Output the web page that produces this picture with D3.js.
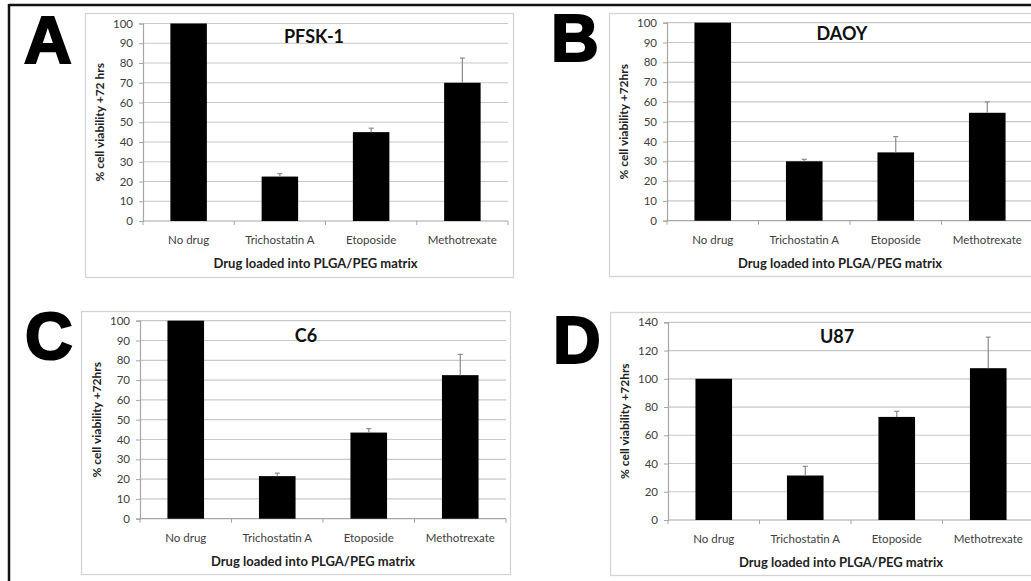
<!DOCTYPE html>
<html>
<head>
<meta charset="utf-8">
<script src="https://cdn.jsdelivr.net/npm/d3@7"></script>
<style>
  body { margin: 0; background: #fff; }
  svg { display: block; }
  text { font-family: Lato, "Open Sans", sans-serif; }
</style>
</head>
<body>
<svg id="fig" width="1031" height="581"></svg>
<script>
// categories shared by all four panels
var categories = ["No drug", "Trichostatin A", "Etoposide", "Methotrexate"];

// mean viability and upper error (SD) per cell line
var pfskMean = [100, 22.5, 45, 70];
var pfskErr  = [0, 1.5, 2, 12.5];
var daoyMean = [100, 30, 34.5, 54.5];
var daoyErr  = [0, 1, 8, 5.5];
var c6Mean   = [100, 21.5, 43.5, 72.5];
var c6Err    = [0, 1.5, 2, 10.5];
var u87Mean  = [100, 31.5, 73, 107.5];
var u87Err   = [0, 6.5, 4, 22];

var ticks100 = [0, 10, 20, 30, 40, 50, 60, 70, 80, 90, 100];
var ticks140 = [0, 20, 40, 60, 80, 100, 120, 140];

var svg = d3.select("#fig");

// outer frame (only top and left edges are visible in the figure)
svg.append("line").attr("x1", 9).attr("x2", 1031).attr("y1", 5).attr("y2", 5)
  .attr("stroke", "#111").attr("stroke-width", 2.5);
svg.append("line").attr("x1", 9).attr("x2", 9).attr("y1", 4).attr("y2", 581)
  .attr("stroke", "#111").attr("stroke-width", 2.5);

var panels = [
  {letter: "A", lx: 24, ly: 63, title: "PFSK-1", tx: 314, ty: 43, ylab: "% cell viability +72 hrs",
   box: [85, 13, 513, 277], plot: [143, 23.5, 508, 221], mean: pfskMean, err: pfskErr, ticks: ticks100},
  {letter: "B", lx: 551, ly: 61, title: "DAOY", tx: 842, ty: 40, ylab: "% cell viability +72hrs",
   box: [609, 13, 1045, 276], plot: [667, 22.7, 1033, 220.7], mean: daoyMean, err: daoyErr, ticks: ticks100},
  {letter: "C", lx: 25, ly: 359, title: "C6", tx: 306, ty: 342, ylab: "% cell viability +72hrs",
   box: [81, 311, 510, 574], plot: [140, 320.7, 506, 518.7], mean: c6Mean, err: c6Err, ticks: ticks100},
  {letter: "D", lx: 553, ly: 363, title: "U87", tx: 837, ty: 343, ylab: "% cell viability +72hrs",
   box: [610, 312, 1045, 575], plot: [668, 322.3, 1034, 520], mean: u87Mean, err: u87Err, ticks: ticks140}
];

panels.forEach(function(p) {
  var g = svg.append("g");
  var left = p.plot[0], top = p.plot[1], right = p.plot[2], bottom = p.plot[3];

  // panel border
  g.append("rect")
    .attr("x", p.box[0] + 0.5).attr("y", p.box[1] + 0.5)
    .attr("width", p.box[2] - p.box[0]).attr("height", p.box[3] - p.box[1])
    .attr("fill", "#fff").attr("stroke", "#d4d4d4").attr("stroke-width", 1.3);

  var x = d3.scaleBand().domain(categories).range([left, right])
    .paddingInner(0.6).paddingOuter(0.3);
  var y = d3.scaleLinear().domain([0, d3.max(p.ticks)]).range([bottom, top]);

  // gridlines
  g.append("g").selectAll("line").data(p.ticks.slice(1)).enter().append("line")
    .attr("x1", left).attr("x2", right)
    .attr("y1", function(d) { return y(d); }).attr("y2", function(d) { return y(d); })
    .attr("stroke", "#c8c8c8").attr("stroke-width", 1.2);

  // y axis
  var yAxis = d3.axisLeft(y).tickValues(p.ticks).tickSize(4).tickPadding(6);
  var ya = g.append("g").attr("transform", "translate(" + left + ",0)").call(yAxis);
  ya.select(".domain").attr("stroke", "#a6a6a6").attr("stroke-width", 1.2);
  ya.selectAll(".tick line").attr("stroke", "#a6a6a6");
  ya.selectAll(".tick text").attr("fill", "#404040").style("font-size", "11.5px")
    .style("font-family", "Lato, sans-serif");

  // x axis with ticks between categories
  g.append("line").attr("x1", left).attr("x2", right).attr("y1", bottom).attr("y2", bottom)
    .attr("stroke", "#a6a6a6").attr("stroke-width", 1.2);
  var step = x.step();
  g.append("g").selectAll("line").data(d3.range(categories.length + 1)).enter().append("line")
    .attr("x1", function(i) { return left + i * step; })
    .attr("x2", function(i) { return left + i * step; })
    .attr("y1", bottom).attr("y2", bottom + 4)
    .attr("stroke", "#a6a6a6");
  g.append("g").selectAll("text").data(categories).enter().append("text")
    .attr("x", function(d) { return x(d) + x.bandwidth() / 2; })
    .attr("y", bottom + 23)
    .attr("text-anchor", "middle")
    .attr("fill", "#404040")
    .style("font-size", "11.5px")
    .text(function(d) { return d; });

  // bars
  g.append("g").selectAll("rect").data(categories).enter().append("rect")
    .attr("x", function(d) { return x(d); })
    .attr("y", function(d, i) { return y(p.mean[i]); })
    .attr("width", x.bandwidth())
    .attr("height", function(d, i) { return bottom - y(p.mean[i]); })
    .attr("fill", "#000");

  // error bars (upper half)
  var eb = g.append("g").selectAll("g").data(categories.filter(function(d, i) { return p.err[i] > 0; }))
    .enter().append("g");
  eb.append("line")
    .attr("x1", function(d) { return x(d) + x.bandwidth() / 2; })
    .attr("x2", function(d) { return x(d) + x.bandwidth() / 2; })
    .attr("y1", function(d) { var i = categories.indexOf(d); return y(p.mean[i]); })
    .attr("y2", function(d) { var i = categories.indexOf(d); return y(p.mean[i] + p.err[i]); })
    .attr("stroke", "#8a8a8a").attr("stroke-width", 1.2);
  eb.append("line")
    .attr("x1", function(d) { return x(d) + x.bandwidth() / 2 - 2.5; })
    .attr("x2", function(d) { return x(d) + x.bandwidth() / 2 + 2.5; })
    .attr("y1", function(d) { var i = categories.indexOf(d); return y(p.mean[i] + p.err[i]); })
    .attr("y2", function(d) { var i = categories.indexOf(d); return y(p.mean[i] + p.err[i]); })
    .attr("stroke", "#8a8a8a").attr("stroke-width", 1.2);

  // titles
  g.append("text").attr("x", p.tx).attr("y", p.ty).attr("text-anchor", "middle")
    .style("font-size", "18px").style("font-weight", 700).attr("fill", "#111")
    .text(p.title);
  g.append("text").attr("x", (left + right) / 2 - 10).attr("y", bottom + 47)
    .attr("text-anchor", "middle").style("font-size", "13px").style("font-weight", 700)
    .attr("fill", "#222").text("Drug loaded into PLGA/PEG matrix");
  g.append("text")
    .attr("transform", "translate(" + (left - 39) + "," + ((top + bottom) / 2) + ") rotate(-90)")
    .attr("text-anchor", "middle").style("font-size", "12px").style("font-weight", 700)
    .attr("fill", "#222").text(p.ylab);

  // panel letter
  g.append("text").attr("x", p.lx).attr("y", p.ly)
    .style("font-family", "'Liberation Sans', Arial, sans-serif")
    .style("font-size", "66px").style("font-weight", 700)
    .attr("fill", "#000").attr("stroke", "#000").attr("stroke-width", 2.2)
    .text(p.letter);
});
</script>
</body>
</html>
